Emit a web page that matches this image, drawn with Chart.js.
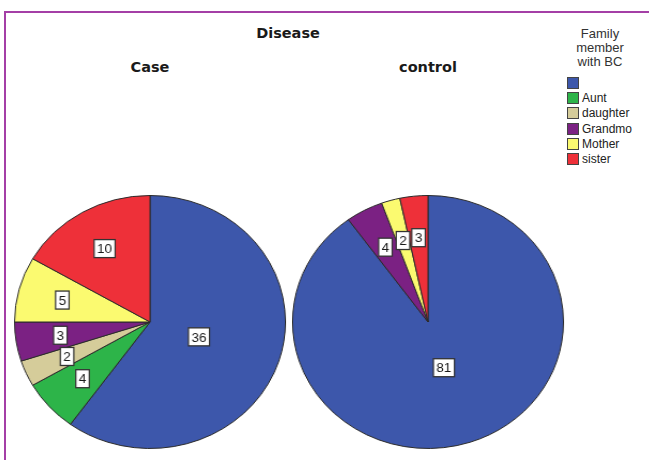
<!DOCTYPE html>
<html>
<head>
<meta charset="utf-8">
<script src="https://cdn.jsdelivr.net/npm/chart.js@4/dist/chart.umd.min.js"></script>
<style>
  html, body { margin: 0; padding: 0; background: #fff; }
  #page { position: relative; width: 649px; height: 460px; overflow: hidden; font-family: "Liberation Sans", Arial, sans-serif; }
  #frameTop { position: absolute; left: 4px; top: 11px; width: 645px; height: 2px; background: #a43fa6; }
  #frameLeft { position: absolute; left: 4px; top: 11px; width: 2px; height: 449px; background: #a43fa6; }
  .title { position: absolute; font-family: "DejaVu Sans", sans-serif; font-weight: bold; font-size: 14.5px; color: #1a1a1a; transform: translateX(-50%); white-space: nowrap; }
  .pieBox { position: absolute; width: 260px; height: 260px; transform: scaleX(1.071); transform-origin: 50% 50%; }
  .pieBox canvas { display: block; }
  #legendTitle { position: absolute; left: 600px; top: 27px; transform: translateX(-50%); text-align: center; font-size: 13px; line-height: 14px; color: #333; }
  #legend { position: absolute; left: 567px; top: 75px; }
  .item { height: 15.3px; display: flex; align-items: center; font-size: 12px; color: #222; }
  .swatch { width: 10px; height: 10px; border: 1px solid #444; margin-right: 3px; box-sizing: content-box; }
</style>
</head>
<body>
<div id="page">
  <div id="frameTop"></div>
  <div id="frameLeft"></div>
  <div class="title" style="left:288px; top:25px;">Disease</div>
  <div class="title" style="left:150px; top:59px;">Case</div>
  <div class="title" style="left:428px; top:59px;">control</div>
  <div id="legendTitle">Family<br>member<br>with BC</div>
  <div id="legend"></div>
  <div class="pieBox" style="left:20px; top:192px;"><canvas id="casePie" width="260" height="260"></canvas></div>
  <div class="pieBox" style="left:298px; top:192px;"><canvas id="controlPie" width="260" height="260"></canvas></div>
</div>
<script>
// Family member with breast cancer, split by disease group
const categories = ["", "Aunt", "daughter", "Grandmo", "Mother", "sister"];
const caseCounts = [36, 4, 2, 3, 5, 10];
const controlCounts = [81, 0, 0, 4, 2, 3];
const colors = ["#3d57ab", "#2db449", "#d5cc9a", "#7b2183", "#fbfa70", "#ee3039"];

const X_STRETCH = 1.071;

// Legend
const legend = document.getElementById("legend");
categories.forEach((name, i) => {
  const row = document.createElement("div");
  row.className = "item";
  const sw = document.createElement("span");
  sw.className = "swatch";
  sw.style.background = colors[i];
  const txt = document.createElement("span");
  txt.textContent = name;
  row.appendChild(sw);
  row.appendChild(txt);
  legend.appendChild(row);
});

// Count labels in white boxes inside each slice
const sliceLabels = {
  id: "sliceLabels",
  afterDatasetsDraw(chart) {
    const ctx = chart.ctx;
    const meta = chart.getDatasetMeta(0);
    const data = chart.data.datasets[0].data;
    const total = data.reduce((a, b) => a + b, 0);
    ctx.save();
    ctx.font = "13.5px 'Liberation Sans', Arial, sans-serif";
    ctx.textAlign = "center";
    ctx.textBaseline = "middle";
    meta.data.forEach((arc, i) => {
      const v = data[i];
      if (!v) return;
      const p = arc.getProps(["x", "y", "startAngle", "endAngle", "outerRadius"], true);
      const mid = (p.startAngle + p.endAngle) / 2;
      const frac = v / total > 0.5 ? 0.38 : 0.67;
      const r = p.outerRadius * frac;
      const lx = p.x + Math.cos(mid) * r;
      const ly = p.y + Math.sin(mid) * r;
      const text = String(v);
      const w = ctx.measureText(text).width + 6;
      const h = 18;
      ctx.save();
      ctx.translate(lx, ly);
      ctx.scale(1 / X_STRETCH, 1);
      ctx.fillStyle = "#ffffff";
      ctx.fillRect(-w / 2, -h / 2, w, h);
      ctx.lineWidth = 1.3;
      ctx.strokeStyle = "#333";
      ctx.strokeRect(-w / 2, -h / 2, w, h);
      ctx.fillStyle = "#1a1a1a";
      ctx.fillText(text, 0, 1);
      ctx.restore();
    });
    ctx.restore();
  }
};

function makePie(id, values) {
  return new Chart(document.getElementById(id), {
    type: "pie",
    data: {
      labels: categories,
      datasets: [{
        data: values,
        backgroundColor: colors,
        borderColor: "#2a2a2a",
        borderWidth: 1,
        borderAlign: "center"
      }]
    },
    options: {
      responsive: false,
      animation: false,
      devicePixelRatio: 1,
      layout: { padding: 3 },
      plugins: {
        legend: { display: false },
        tooltip: { enabled: false }
      }
    },
    plugins: [sliceLabels]
  });
}

makePie("casePie", caseCounts);
makePie("controlPie", controlCounts);
</script>
</body>
</html>
